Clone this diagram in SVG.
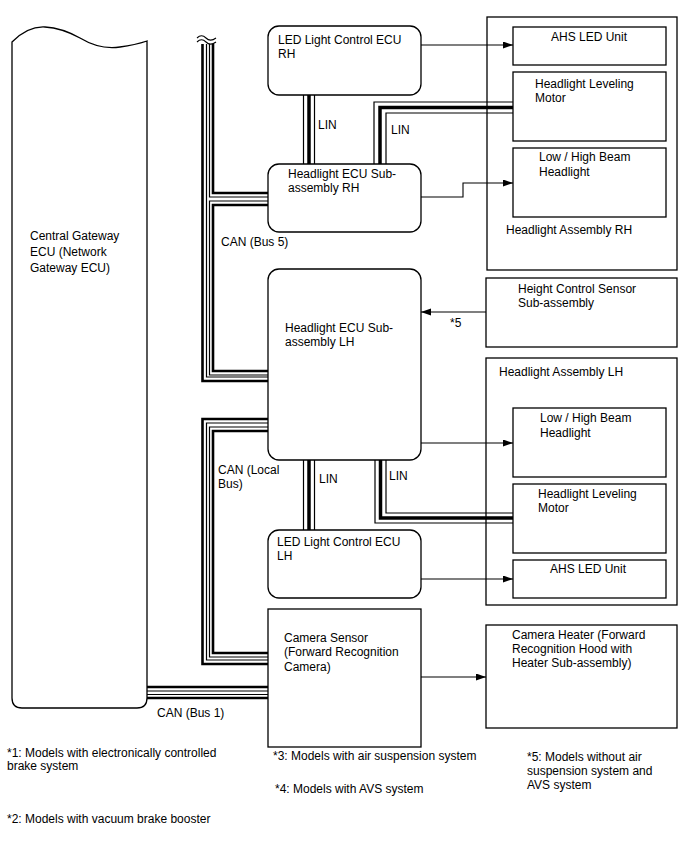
<svg xmlns="http://www.w3.org/2000/svg" width="688" height="852" viewBox="0 0 688 852">
<style>
text{font-family:"Liberation Sans",Arial,sans-serif;font-size:12px;fill:#000}
.box{fill:#fff;stroke:#000;stroke-width:1.3}
.ln{fill:none;stroke:#000;stroke-width:1.1}
.tk{fill:none;stroke:#000;stroke-width:2.6}
.tn{fill:none;stroke:#000;stroke-width:1.2}
.lt{fill:none;stroke:#000;stroke-width:3.5}
.mid{text-anchor:middle}
</style>
<defs>
<marker id="ah" markerUnits="userSpaceOnUse" markerWidth="11" markerHeight="8" refX="10" refY="3.5" orient="auto">
<path d="M0,0 L10,3.5 L0,7 z" fill="#000"/>
</marker>
</defs>
<rect width="688" height="852" fill="#fff"/>

<g id="gateway">
<path class="box" d="M12,42 Q28,26 45,27 Q62,28 80,38 Q100,50 120,47 Q135,45 147,41 V698 Q147,708 137,708 H22 Q12,708 12,698 Z"/>
<text x="30" y="240">Central Gateway</text>
<text x="30" y="256">ECU (Network</text>
<text x="30" y="272">Gateway ECU)</text>
</g>

<g id="assy-rh">
<rect class="box" x="487" y="17" width="190" height="253"/>
<text x="506" y="234">Headlight Assembly RH</text>
</g>
<g id="ahs-rh">
<rect class="box" x="513" y="27" width="153" height="38"/>
<text class="mid" x="589" y="41">AHS LED Unit</text>
</g>
<g id="lev-rh">
<rect class="box" x="513" y="72" width="153" height="69"/>
<text x="535" y="88">Headlight Leveling</text>
<text x="535" y="102">Motor</text>
</g>
<g id="beam-rh">
<rect class="box" x="513" y="148" width="153" height="69"/>
<text x="539" y="161">Low / High Beam</text>
<text x="539" y="176">Headlight</text>
</g>

<g id="led-ecu-rh">
<rect class="box" x="268" y="26" width="153" height="69" rx="11"/>
<text x="278" y="44">LED Light Control ECU</text>
<text x="278" y="58">RH</text>
</g>
<g id="hl-ecu-rh">
<rect class="box" x="268" y="164" width="153" height="68" rx="11"/>
<text x="288" y="178">Headlight ECU Sub-</text>
<text x="288" y="192">assembly RH</text>
</g>
<g id="hl-ecu-lh">
<rect class="box" x="268" y="269" width="153" height="191" rx="11"/>
<text x="285" y="332">Headlight ECU Sub-</text>
<text x="285" y="346">assembly LH</text>
</g>
<g id="led-ecu-lh">
<rect class="box" x="268" y="530" width="153" height="68" rx="11"/>
<text x="277" y="546">LED Light Control ECU</text>
<text x="277" y="560">LH</text>
</g>
<g id="camera">
<rect class="box" x="268" y="609" width="153" height="138"/>
<text x="284" y="642">Camera Sensor</text>
<text x="284" y="656">(Forward Recognition</text>
<text x="284" y="671">Camera)</text>
</g>

<g id="height-sensor">
<rect class="box" x="486" y="278" width="191" height="69"/>
<text x="518" y="293">Height Control Sensor</text>
<text x="518" y="307">Sub-assembly</text>
</g>
<g id="assy-lh">
<rect class="box" x="486" y="358" width="191" height="247"/>
<text x="499" y="376">Headlight Assembly LH</text>
</g>
<g id="beam-lh">
<rect class="box" x="513" y="408" width="153" height="69"/>
<text x="540" y="422">Low / High Beam</text>
<text x="540" y="437">Headlight</text>
</g>
<g id="lev-lh">
<rect class="box" x="513" y="484" width="153" height="69"/>
<text x="538" y="498">Headlight Leveling</text>
<text x="538" y="512">Motor</text>
</g>
<g id="ahs-lh">
<rect class="box" x="513" y="560" width="153" height="38"/>
<text class="mid" x="588" y="573">AHS LED Unit</text>
</g>
<g id="heater">
<rect class="box" x="486" y="625" width="191" height="103"/>
<text x="512" y="639">Camera Heater (Forward</text>
<text x="512" y="653">Recognition Hood with</text>
<text x="512" y="667">Heater Sub-assembly)</text>
</g>

<g id="connectors">
<!-- CAN Bus 5 -->
<path class="tk" d="M202.5,44 V381 H268"/>
<path class="tn" d="M206.5,44 V377 H268"/>
<path class="tn" d="M209.5,44 V197 H268"/>
<path class="tk" d="M213,44 V193 H268"/>
<path class="tn" d="M268,201 H209.5 V375 H268"/>
<path class="tk" d="M268,205 H213 V371 H268"/>
<path class="ln" d="M197,38 C200,35 203,35 206,38 S212,41 216,38"/>
<path class="ln" d="M197,42 C200,39 203,39 206,42 S212,45 216,42"/>
<!-- CAN Local Bus -->
<path class="tk" d="M268,419 H202.5 V664 H268"/>
<path class="tn" d="M268,423 H206.5 V660 H268"/>
<path class="tn" d="M268,427 H209.5 V657 H268"/>
<path class="tk" d="M268,431 H213 V653 H268"/>
<!-- CAN Bus 1 -->
<path class="tk" d="M147,687 H268"/>
<path class="tn" d="M147,691 H268"/>
<path class="tn" d="M147,694.5 H268"/>
<path class="tk" d="M147,698 H268"/>
<!-- LIN RH -->
<path class="tn" d="M303.5,95 V164"/>
<path class="lt" d="M309,95 V164"/>
<path class="tn" d="M314.5,95 V164"/>
<path class="tn" d="M374,164 V102 H513"/>
<path class="lt" d="M380,164 V107.5 H513"/>
<path class="tn" d="M386,164 V113 H513"/>
<!-- LIN LH -->
<path class="tn" d="M303.5,460 V530"/>
<path class="lt" d="M309,460 V530"/>
<path class="tn" d="M314.5,460 V530"/>
<path class="tn" d="M375,460 V523 H513"/>
<path class="lt" d="M380.5,460 V518 H513"/>
<path class="tn" d="M386,460 V513 H513"/>
<!-- arrows -->
<path class="ln" d="M421,45 H513" marker-end="url(#ah)"/>
<path class="ln" d="M421,197 H463 V183 H513" marker-end="url(#ah)"/>
<path class="ln" d="M486,312 H421" marker-end="url(#ah)"/>
<path class="ln" d="M421,443 H513" marker-end="url(#ah)"/>
<path class="ln" d="M421,579 H513" marker-end="url(#ah)"/>
<path class="ln" d="M421,677 H486" marker-end="url(#ah)"/>
<!-- labels -->
<text x="318" y="129">LIN</text>
<text x="391" y="134">LIN</text>
<text x="319" y="483">LIN</text>
<text x="389" y="480">LIN</text>
<text x="221" y="246">CAN (Bus 5)</text>
<text x="218" y="474">CAN (Local</text>
<text x="218" y="488">Bus)</text>
<text x="157" y="717">CAN (Bus 1)</text>
<text x="450" y="327">*5</text>
</g>

<g id="notes">
<text x="7" y="757">*1: Models with electronically controlled</text>
<text x="7" y="770">brake system</text>
<text x="7" y="823">*2: Models with vacuum brake booster</text>
<text x="273" y="760">*3: Models with air suspension system</text>
<text x="275" y="793">*4: Models with AVS system</text>
<text x="527" y="761">*5: Models without air</text>
<text x="527" y="775">suspension system and</text>
<text x="527" y="789">AVS system</text>
</g>
</svg>
